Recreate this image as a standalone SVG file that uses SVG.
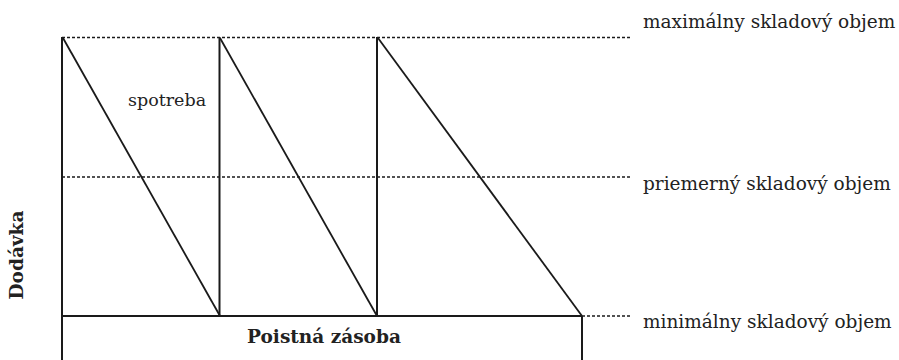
<svg xmlns="http://www.w3.org/2000/svg" width="899" height="360" viewBox="0 0 899 360">
<style>
.s{stroke:#1a1a1a;stroke-width:2;fill:none}
.d{stroke:#1a1a1a;stroke-width:1.8;fill:none}
.dash{stroke:#1a1a1a;stroke-width:1.6;stroke-dasharray:3,2;fill:none}
text{font-family:'DejaVu Serif',serif;fill:#222}
.t{font-size:18.5px}
.b{font-size:18.5px;font-weight:bold}
</style>
<rect width="899" height="360" fill="#fff"/>
<g id="connectors">
<line class="dash" x1="62" y1="37.5" x2="630" y2="37.5"/>
<line class="dash" x1="62" y1="177" x2="630" y2="177"/>
<line class="dash" x1="582" y1="316" x2="630" y2="316"/>
<line class="s" x1="62" y1="37" x2="62" y2="360"/>
<line class="s" x1="219.5" y1="37" x2="219.5" y2="316"/>
<line class="s" x1="377" y1="37" x2="377" y2="316"/>
<line class="s" x1="582" y1="316" x2="582" y2="360"/>
<line class="s" x1="62" y1="316" x2="582" y2="316"/>
<line class="d" x1="63" y1="38" x2="220" y2="316"/>
<line class="d" x1="220" y1="38" x2="377" y2="316"/>
<line class="d" x1="378" y1="38" x2="582" y2="316"/>
</g>
<g id="label-max"><text class="t" x="643" y="28">maximálny skladový objem</text></g>
<g id="label-avg"><text class="t" x="643" y="190">priemerný skladový objem</text></g>
<g id="label-min"><text class="t" x="643" y="328">minimálny skladový objem</text></g>
<g id="label-spotreba"><text class="t" x="128" y="106" style="font-size:17.5px">spotreba</text></g>
<g id="label-poistna"><text class="b" x="324" y="343" text-anchor="middle">Poistná zásoba</text></g>
<g id="label-dodavka"><text class="b" x="0" y="0" text-anchor="middle" transform="translate(23,255) rotate(-90)">Dodávka</text></g>
</svg>
